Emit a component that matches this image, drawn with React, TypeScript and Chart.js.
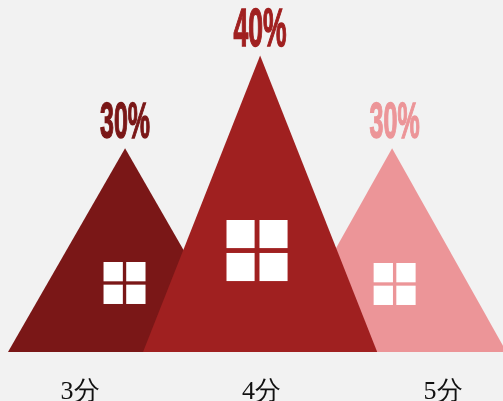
import React, { useEffect, useRef } from "react";
import { Chart, registerables } from "chart.js";

Chart.register(...registerables);

// Score categories and their share of responses
const categories = ["3分", "4分", "5分"];
const tickValues = [3, 4, 5];
const percentValues = [30, 40, 30];

// Each house: roof peak and half the base width, in x-axis units
const peakPositions = [3.248, 3.992, 4.719];
const halfWidths = [0.645, 0.645, 0.63];
const windowPositions = [3.245, 3.975, 4.733];
const labelPositions = [3.248, 3.992, 4.733];

const houseColors = ["#7a1717", "#a02020", "#ec9598"];
const drawOrder = [1, 0, 2];

const X_MIN = 2.559;
const X_MAX = 5.33;
const Y_MIN = 8;
const Y_MAX = 46;

// Window panes and the condensed percent labels above each roof
const houseDetails = {
  id: "houseDetails",
  afterDatasetsDraw(chart: any) {
    const { ctx, scales } = chart;
    const baseY = scales.y.getPixelForValue(Y_MIN);
    percentValues.forEach((value, i) => {
      const peakY = scales.y.getPixelForValue(value);
      const height = baseY - peakY;

      const size = height * 0.206;
      const gap = size * 0.08;
      const pane = (size - gap) / 2;
      const left = scales.x.getPixelForValue(windowPositions[i]) - size / 2;
      const top = Math.round(baseY - height * (i === 2 ? 0.332 : 0.341) - size / 2);
      ctx.save();
      ctx.fillStyle = "#ffffff";
      ctx.fillRect(left, top, pane, pane);
      ctx.fillRect(left + pane + gap, top, pane, pane);
      ctx.fillRect(left, top + pane + gap, pane, pane);
      ctx.fillRect(left + pane + gap, top + pane + gap, pane, pane);
      ctx.restore();

      const fontSize = value >= 40 ? 53 : 50;
      ctx.save();
      ctx.translate(scales.x.getPixelForValue(labelPositions[i]), peakY - 10);
      ctx.scale(0.5, 1);
      ctx.font = `bold ${fontSize}px "Liberation Sans"`;
      ctx.textAlign = "center";
      ctx.textBaseline = "alphabetic";
      ctx.fillStyle = houseColors[i];
      ctx.strokeStyle = houseColors[i];
      ctx.lineWidth = 1.5;
      ctx.lineJoin = "miter";
      ctx.strokeText(`${value}%`, 0, 0);
      ctx.fillText(`${value}%`, 0, 0);
      ctx.restore();
    });
  },
};

export default function App() {
  const canvasRef = useRef<HTMLCanvasElement>(null);

  useEffect(() => {
    const chart = new Chart(canvasRef.current!, {
      type: "line",
      data: {
        datasets: percentValues.map((value, i) => ({
          label: categories[i],
          data: [
            { x: peakPositions[i] - halfWidths[i], y: Y_MIN },
            { x: peakPositions[i], y: value },
            { x: peakPositions[i] + halfWidths[i], y: Y_MIN },
          ],
          order: drawOrder[i],
          borderWidth: 0,
          borderColor: houseColors[i],
          backgroundColor: houseColors[i],
          pointRadius: 0,
          tension: 0,
          fill: "origin",
        })),
      },
      options: {
        animation: false,
        responsive: false,
        layout: { padding: 0 },
        plugins: {
          legend: { display: false },
          title: { display: false },
          tooltip: { enabled: false },
        },
        scales: {
          x: {
            type: "linear",
            min: X_MIN,
            max: X_MAX,
            grid: { display: false },
            border: { display: false },
            afterBuildTicks(scale: any) {
              scale.ticks = tickValues.map((value) => ({ value }));
            },
            afterFit(scale: any) {
              scale.height = 49;
              scale.paddingLeft = 0;
              scale.paddingRight = 0;
            },
            ticks: {
              autoSkip: false,
              maxRotation: 0,
              padding: 17,
              color: "#111111",
              font: { family: '"Liberation Serif", serif', size: 26 },
              callback: (value: any) => categories[tickValues.indexOf(value)],
            },
          },
          y: {
            display: false,
            min: Y_MIN,
            max: Y_MAX,
          },
        },
      },
      plugins: [houseDetails],
    } as any);
    return () => chart.destroy();
  }, []);

  return (
    <div
      style={{
        position: "absolute",
        left: 0,
        top: 0,
        width: 503,
        height: 401,
        backgroundColor: "#f2f2f2",
        overflow: "hidden",
      }}
    >
      <canvas ref={canvasRef} width={503} height={401} style={{ display: "block" }} />
    </div>
  );
}
